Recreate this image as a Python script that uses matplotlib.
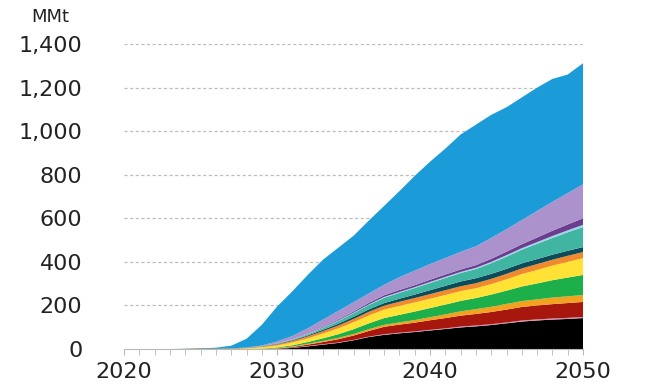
import numpy as np
import matplotlib
matplotlib.use("Agg")
import matplotlib.pyplot as plt

# annual values, MMt, 2020..2050 (bottom layer first)
years = list(range(2020, 2051))

black = [0, 0, 0, 0, 0, 0, 0, 0, 0, 0,
         1, 5, 12, 20, 28, 40, 55, 65, 72, 78, 85, 92, 99, 104, 110, 118, 126, 131, 135, 138, 142]
pink = [0, 0, 0, 0, 0, 0, 0, 0, 0, 0,
        0, 1, 2, 2, 2, 2, 2, 3, 3, 3, 3, 3, 4, 4, 4, 4, 5, 5, 5, 5, 5]
dark_red = [0, 0, 0, 0, 0, 0, 0, 0, 0, 0,
            1, 3, 6, 10, 15, 20, 26, 34, 37, 40, 44, 47, 50, 53, 56, 59, 62, 64, 66, 68, 69]
gold = [0, 0, 0, 0, 0, 0, 0, 0, 0, 1,
        2, 3, 4, 5, 6, 7, 8, 9, 10, 12, 14, 17, 20, 22, 24, 26, 27, 28, 30, 31, 32]
green = [0, 0, 0, 0, 0, 0, 0, 0, 0, 1,
         3, 5, 8, 12, 17, 22, 27, 31, 35, 39, 42, 45, 48, 51, 56, 61, 67, 73, 80, 86, 92]
yellow = [0, 0, 0, 0, 0, 0, 0, 1, 3, 6,
          9, 13, 17, 22, 27, 32, 36, 39, 41, 42, 43, 44, 45, 45, 48, 52, 57, 62, 67, 72, 77]
orange = [0, 0, 0, 0, 0, 1, 1, 1, 2, 3,
          5, 7, 9, 11, 13, 15, 17, 18, 19, 20, 21, 22, 22, 23, 24, 25, 26, 27, 27, 28, 28]
navy = [0, 0, 0, 0, 1, 2, 2, 1, 1, 1,
        2, 3, 4, 6, 8, 10, 11, 12, 14, 16, 18, 20, 22, 23, 23, 23, 23, 23, 23, 23, 23]
teal = [0, 0, 0, 0, 0, 0, 0, 0, 0, 1,
        2, 3, 5, 8, 12, 16, 20, 24, 27, 30, 33, 36, 39, 42, 49, 56, 63, 70, 77, 85, 92]
light_blue = [0, 0, 0, 0, 0, 0, 0, 0, 0, 0,
              1, 1, 2, 2, 3, 3, 3, 4, 4, 4, 5, 5, 5, 6, 6, 7, 7, 8, 9, 9, 10]
purple = [0, 0, 0, 0, 0, 0, 0, 0, 0, 0,
          1, 1, 2, 3, 4, 5, 7, 8, 9, 9, 10, 11, 11, 12, 14, 16, 18, 21, 24, 27, 30]
lavender = [0, 0, 0, 0, 0, 0, 0, 0, 1, 3,
            8, 15, 24, 34, 40, 43, 43, 48, 59, 67, 72, 76, 81, 87, 96, 103, 111, 122, 133, 144, 156]
blue = [0, 0, 0, 0, 0, 0, 3, 12, 40, 95,
        160, 205, 245, 275, 290, 305, 335, 362, 395, 435, 470, 502, 539, 558, 565, 560, 563, 566, 564, 544, 556]

series = [black, pink, dark_red, gold, green, yellow, orange,
          navy, teal, light_blue, purple, lavender, blue]
colors = ['#000000', '#D98FB0', '#A8170E', '#F2A21E', '#1DAF4A', '#FFE233', '#F08A2C',
          '#0D4A5A', '#40B5A2', '#9FD3EC', '#6B3D8E', '#AB92CC', '#1B9BD7']

yticks = [0, 200, 400, 600, 800, 1000, 1200, 1400]
ytick_labels = ['0', '200', '400', '600', '800', '1,000', '1,200', '1,400']
xticks = [2020, 2030, 2040, 2050]

fig = plt.figure(figsize=(6.5, 3.88), dpi=100)
ax = fig.add_axes([0.191, 0.1005, 0.706, 0.786])

ax.stackplot(years, *series, colors=colors, linewidth=0, zorder=2)

for v in yticks[1:]:
    ax.axhline(v, color='#bdbdbd', lw=0.9, ls=(0, (2.5, 2)), zorder=1)

ax.set_xlim(2020, 2050)
ax.set_ylim(0, 1400)
ax.set_yticks(yticks)
ax.set_yticklabels(ytick_labels)
ax.set_xticks(xticks)
ax.set_xticks(years, minor=True)

for s in ['top', 'right', 'left']:
    ax.spines[s].set_visible(False)
ax.spines['bottom'].set_color('#b8b8b8')
ax.spines['bottom'].set_zorder(3)

ax.tick_params(axis='y', length=0, pad=30, labelsize=16, labelcolor='#222222')
ax.tick_params(axis='x', which='both', length=4, color='#b8b8b8', pad=5,
               labelsize=16, labelcolor='#222222')

fig.text(0.077, 0.955, 'MMt', fontsize=13, color='#222222', ha='center', va='center')

plt.savefig('out.png', dpi=100)
